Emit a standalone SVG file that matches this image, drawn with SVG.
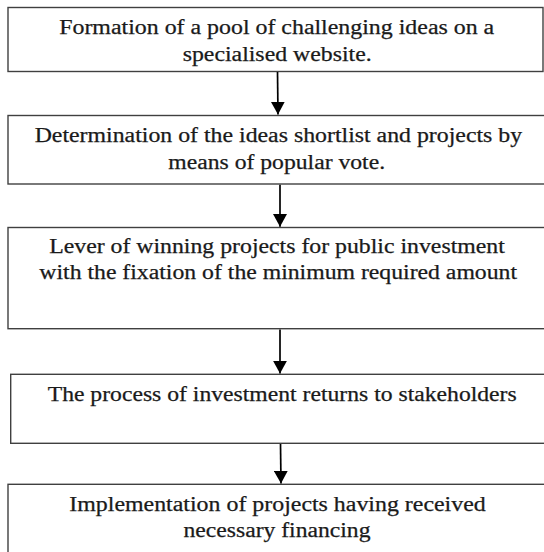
<svg xmlns="http://www.w3.org/2000/svg" width="544" height="552" viewBox="0 0 544 552">
<style>
.box{fill:#ffffff;stroke:#404040;stroke-width:1.4}
.t{font-family:"Liberation Serif","Times New Roman",serif;font-size:20px;fill:#1a1a1a;stroke:#1a1a1a;stroke-width:0.25;text-anchor:middle}
.c{stroke:#000;stroke-width:1.7;fill:none}
</style>
<defs>
<marker id="ah" markerUnits="userSpaceOnUse" markerWidth="14" markerHeight="14" viewBox="0 0 12 12" refX="11" refY="6" orient="auto">
<path d="M0,0 L11,6 L0,12 Z" fill="#000"/>
</marker>
</defs>
<rect width="544" height="552" fill="#ffffff"/>
<g id="node1">
<rect class="box" x="8" y="7.5" width="535" height="64"/>
<text class="t" x="276.7" y="34.3" textLength="435" lengthAdjust="spacingAndGlyphs">Formation of a pool of challenging ideas on a</text>
<text class="t" x="277.2" y="60.7" textLength="189" lengthAdjust="spacingAndGlyphs">specialised website.</text>
</g>
<g id="node2">
<rect class="box" x="8" y="115.5" width="540" height="68.5"/>
<text class="t" x="278.4" y="142.3" textLength="487.5" lengthAdjust="spacingAndGlyphs">Determination of the ideas shortlist and projects by</text>
<text class="t" x="276.7" y="169" textLength="216.7" lengthAdjust="spacingAndGlyphs">means of popular vote.</text>
</g>
<g id="node3">
<rect class="box" x="8" y="227.5" width="540" height="101.2"/>
<text class="t" x="277" y="253.3" textLength="455.6" lengthAdjust="spacingAndGlyphs">Lever of winning projects for public investment</text>
<text class="t" x="278.2" y="279" textLength="477.7" lengthAdjust="spacingAndGlyphs">with the fixation of the minimum required amount</text>
</g>
<g id="node4">
<rect class="box" x="10.7" y="374.3" width="540" height="69"/>
<text class="t" x="282.2" y="400.5" textLength="469" lengthAdjust="spacingAndGlyphs">The process of investment returns to stakeholders</text>
</g>
<g id="node5">
<rect class="box" x="8" y="484.3" width="540" height="80"/>
<text class="t" x="277.5" y="510.7" textLength="416.4" lengthAdjust="spacingAndGlyphs">Implementation of projects having received</text>
<text class="t" x="277" y="536.7" textLength="187" lengthAdjust="spacingAndGlyphs">necessary financing</text>
</g>
<g id="connectors">
<line class="c" x1="277.5" y1="72" x2="278" y2="114.5" marker-end="url(#ah)"/>
<line class="c" x1="280" y1="184.7" x2="280" y2="226.8" marker-end="url(#ah)"/>
<line class="c" x1="280" y1="329.4" x2="280" y2="373.6" marker-end="url(#ah)"/>
<line class="c" x1="280.5" y1="444" x2="281" y2="483.6" marker-end="url(#ah)"/>
</g>
</svg>
